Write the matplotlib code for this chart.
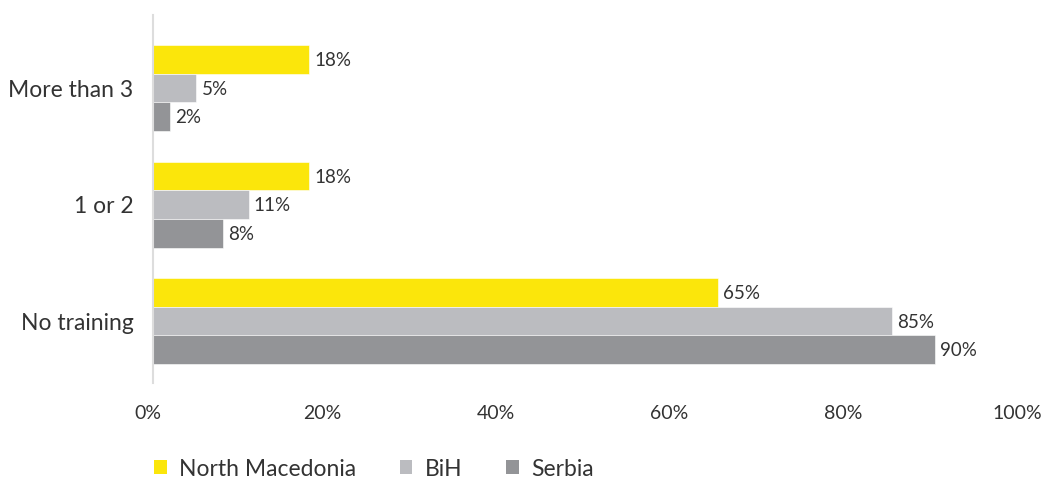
import matplotlib
matplotlib.use("Agg")
import matplotlib.pyplot as plt
import numpy as np
from matplotlib.patches import Patch
from matplotlib.transforms import ScaledTranslation

categories = ["No training", "1 or 2", "More than 3"]
series_names = ["North Macedonia", "BiH", "Serbia"]
north_macedonia = [65, 18, 18]
bih = [85, 11, 5]
serbia = [90, 8, 2]
x_ticks = [0, 20, 40, 60, 80, 100]
x_tick_labels = ["0%", "20%", "40%", "60%", "80%", "100%"]

colors = ["#FBE60B", "#BBBCC0", "#939497"]
text_color = "#333333"

plt.rcParams['font.family'] = ['Lato', 'DejaVu Sans']

W, H = 1042, 479
fig = plt.figure(figsize=(W / 100, H / 100), dpi=100)
ax = fig.add_axes([153 / W, 1 - 383 / H, (1022 - 153) / W, (383 - 15) / H])

y = np.arange(len(categories))
bh = 0.246
offsets = [bh, 0, -bh]
for vals, off, col in zip([north_macedonia, bih, serbia], offsets, colors):
    bars = ax.barh(y + off, vals, height=bh, color=col, edgecolor="white", linewidth=0.4)
    for b, v in zip(bars, vals):
        ax.text(b.get_width() + 0.6, b.get_y() + b.get_height() / 2 - 0.01, f"{v}%",
                va="center", ha="left", fontsize=13.5, color=text_color)

ax.set_xlim(0, 100)
ax.set_ylim(-0.532, 2.627)
ax.set_yticks(y)
ax.set_yticklabels(categories, fontsize=16.5, color=text_color)
ax.set_xticks(x_ticks)
ax.set_xticklabels(x_tick_labels, fontsize=14, color=text_color)
ax.tick_params(axis="both", length=0)
ax.tick_params(axis="y", pad=14)
ax.tick_params(axis="x", pad=15.5)
shift = ScaledTranslation(-5 / 100, 0, fig.dpi_scale_trans)
for lbl in ax.get_xticklabels():
    lbl.set_transform(lbl.get_transform() + shift)
for s in ["top", "right", "bottom"]:
    ax.spines[s].set_visible(False)
ax.spines["left"].set_color("#DDDDDD")
ax.spines["left"].set_linewidth(1.5)

handles = [Patch(facecolor=c, edgecolor="none") for c in colors]
fig.legend(handles, series_names, loc="center left", bbox_to_anchor=(154 / W, 1 - 469 / H),
           ncol=3, frameon=False, fontsize=16.5, handlelength=0.55, handleheight=0.55,
           handletextpad=0.55, columnspacing=1.9, borderpad=0, borderaxespad=0,
           labelcolor=text_color)

fig.savefig("out.png", dpi=100)
